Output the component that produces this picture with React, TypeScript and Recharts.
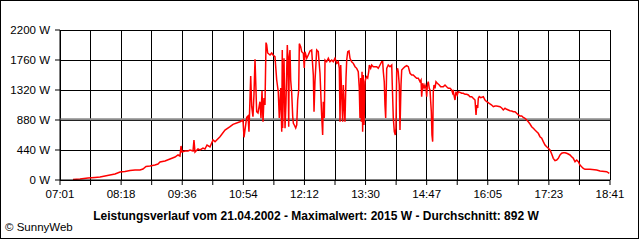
import React from 'react';
import { LineChart, Line, XAxis, YAxis, CartesianGrid, ReferenceLine } from 'recharts';

// x tick labels (every second grid line), start 07:01, end 18:41
const timeLabels = ['07:01', '08:18', '09:36', '10:54', '12:12', '13:30', '14:47', '16:05', '17:23', '18:41'];
const wattTicks = [0, 440, 880, 1320, 1760, 2200];
const TOTAL_MINUTES = 700; // 07:01 -> 18:41
const GRID_STEPS = 18;
const averageW = 892;
const maxW = 2015;

// minutes after 07:01
const morningMin = [
  16.5, 25.5, 35.6, 44.5, 50.9, 57.3, 63.6, 70, 76.4, 82.7,
  89.1, 95.5, 101.8, 105.6, 109.5, 114.5, 120.9, 124.7, 127.3, 133.6,
  140, 146.4, 150.2, 152.7, 154, 155.3, 159.1, 162.9, 165.5, 169.3,
  170.5, 171.8, 175.6, 178.2, 182, 184.5, 187.1, 190.9,
  194.7, 197.3, 203.6, 210, 216.4, 220.2, 229.1, 232.9, 234.2, 237.6,
  239.3, 240.5, 242.7, 244, 245.6, 246.9, 248.2, 250.3, 252, 254.5,
  255.8, 257.1, 258.4, 259.6, 260.9, 262.2, 263.1, 264.3, 267.3, 269.4,
  271.1, 273.6,
];
const morningW = [
  7, 15, 29, 37, 44, 59, 73, 88, 117, 125,
  139, 147, 147, 161, 198, 205, 220, 235, 264, 279,
  308, 337, 367, 352, 499, 411, 425, 425, 440, 425,
  587, 411, 455, 440, 469, 455, 513, 484,
  587, 562, 635, 733, 782, 817, 855, 880, 626, 920,
  939, 708, 1525, 1075, 928, 1261, 1770, 1002, 983, 1148,
  909, 1310, 855, 1203, 1100, maxW, 1980, 1863, 1833, 1863,
  1833, 1808,
];

const noonMin = [
  275.8, 277.8, 279.1, 280.9, 282.2, 282.9, 283.4, 285.1, 286.4, 287.6,
  289.3, 290.2, 291.1, 291.8, 292.7, 293.6, 294.9, 296.2, 297, 298.2,
  300, 301.3, 302.5, 303.8, 304.6, 306.3, 307.6, 309.7, 310.9, 311.8,
  314, 316, 318.2, 320.3, 322.4, 323.3, 324.5, 326.7, 328.7, 330.9,
  333, 334.3, 335.1, 336.4, 337.3, 339.4, 341.5, 343.6, 345.8, 347.8,
  350, 352.2, 354.2, 355.5, 356.4, 357.3, 358.5, 359.8, 360.6, 361.8,
  362.7, 364, 364.9, 366.2, 367.8, 369.1, 371.2, 373.3, 375.5, 377.6,
  379.6, 380.9, 381.8, 382.7, 383.5, 384.4, 385.2, 386, 386.9, 388.2,
  389.4, 390.3, 391.6, 392.9, 393.7, 395.4, 396.7, 398.7, 400.9, 403.1,
  405.1, 407.3, 409.4, 410.7, 411.5, 412.7, 413.6, 414.5, 415.8, 417.8,
  420, 422.2, 422.9, 424.2, 425.5, 426.7, 427.6, 428.5, 429.7, 430.5,
  431.8, 432.7, 434, 434.9, 436.9, 439.1, 441.3, 443.3, 445.5, 447.6,
];
const noonW = [
  1467, 1295, 909, 1349, 708, 1907, 763, 1785, 758, 1129,
  1980, 1716, 782, 1808, 1907, 1467, 1276, 928, 832, 807,
  763, 807, 1173, 1320, 2000, 1955, 1882, 1858, 1643, 1882,
  1785, 1833, 1892, 1907, 1540, 1002, 1442, 1907, 1882, 1565,
  953, 660, 1148, 909, 1760, 1735, 1785, 1735, 1760, 1735,
  1785, 1711, 1735, 1638, 855, 1687, 1247, 855, 1393, 1056,
  855, 1496, 1760, 1882, 1892, 1785, 1735, 1711, 1662, 1638,
  1588, 1345, 909, 1496, 855, 1588, 708, 1540, 807, 1442,
  1496, 1515, 1496, 1588, 1687, 1638, 1687, 1662, 1662, 1662,
  1638, 1687, 1735, 1735, 1588, 1442, 1100, 909, 1638, 1687,
  1662, 1687, 1393, 909, 708, 660, 763, 1588, 1638, 1588,
  1393, 733, 1393, 1613, 1638, 1662, 1676, 1662, 1565, 1540,
];

const afternoonMin = [
  449.6, 451.8, 453.9, 456, 458.2, 459.5, 460.3, 461.6, 463.3, 464.5,
  465.8, 466.7, 467.5, 468.7, 470, 470.9, 471.8, 472.6, 473.4, 474.3,
  475.1, 476, 477.3, 478.5, 480.2, 482.7, 484.5, 487.8, 490, 492.1,
  494.2, 496.4, 498.5, 499.8, 500.6, 501.8, 502.7, 504, 505.6, 506.9,
  509.1, 511.2, 513.3, 515.5, 517.6, 519.7, 521.8, 524, 526, 528.2,
  529.5, 530.4, 531.6, 532.4, 533.6, 535.4, 538.8, 540.9, 543.1, 545.1,
  547.3, 549.4, 551.5, 553.6, 555.8, 560, 562.2, 564.2, 566.4, 568.5,
  570.6, 572.7, 574.9, 576.9, 579.1, 581.2, 583.3, 585.4, 587.6, 589.6,
  591.8, 594, 596, 598.2, 600.3, 602.4, 604.5, 606.7, 608.7, 610.9,
  613.1, 615.1, 617.3, 619.4, 621.5, 623.6, 625.8, 627.8, 630, 632.1,
  634.2, 636.4, 638.5, 640.6, 642.7, 644.9, 646.9, 649.1, 651.2, 653.3,
  655.5, 657.6, 659.7, 661.8, 663.9, 666, 668.2, 674.5, 683, 687.3, 695.8, 699.1,
];
const afternoonW = [
  1540, 1515, 1492, 1492, 1442, 1467, 1222, 1418, 1345, 1393,
  1345, 1222, 1393, 1442, 1345, 1320, 1148, 1002, 660, 562,
  1295, 1393, 1345, 1442, 1418, 1393, 1368, 1368, 1393, 1368,
  1345, 1345, 1320, 1272, 1295, 1222, 1173, 1295, 1247, 1295,
  1286, 1272, 1272, 1257, 1257, 1247, 1222, 1222, 1198, 1173,
  953, 1100, 1056, 1198, 1222, 1207, 1222, 1173, 1148, 1134,
  1115, 1100, 1075, 1085, 1085, 1075, 1056, 1027, 1052, 1037,
  1027, 1016, 1012, 1002, 1002, 978, 953, 939, 939, 920,
  905, 880, 855, 821, 782, 758, 733, 708, 685, 635,
  612, 562, 513, 488, 465, 440, 381, 318, 283, 293,
  318, 367, 392, 400, 400, 392, 381, 367, 342, 318,
  268, 293, 268, 220, 195, 172, 157, 157, 147, 132, 122, 98,
];

const allMin = [...morningMin, ...noonMin, ...afternoonMin];
const allW = [...morningW, ...noonW, ...afternoonW];
const data = allMin.slice(0, Math.min(allMin.length, allW.length)).map((m, i) => ({ m, w: allW[i] }));

const xTicks = Array.from({ length: GRID_STEPS + 1 }, (_, i) => (i * TOTAL_MINUTES) / GRID_STEPS);

const FONT = '"Liberation Sans Narrow", "Arial Narrow", "Liberation Sans", Arial, sans-serif';
const TITLE_FONT = '"Liberation Sans", Arial, sans-serif';

const xFormatter = (v: number) => {
  const idx = Math.round((v * GRID_STEPS) / TOTAL_MINUTES);
  return idx % 2 === 0 ? timeLabels[idx / 2] : '';
};

export default function App() {
  return (
    <div style={{ position: 'absolute', left: 0, top: 0, width: 640, height: 240, background: '#fff' }}>
      <LineChart width={640} height={240} data={data} margin={{ top: 30, right: 30, bottom: 30, left: 0 }}>
        <CartesianGrid stroke="#000" shapeRendering="crispEdges" />
        <XAxis
          dataKey="m"
          type="number"
          domain={[0, TOTAL_MINUTES]}
          ticks={xTicks}
          interval={0}
          tickFormatter={xFormatter}
          height={30}
          tickSize={5}
          tickMargin={5}
          axisLine={{ stroke: '#000' }}
          tickLine={{ stroke: '#000' }}
          tick={{ fill: '#000', fontSize: 11.5, fontFamily: FONT }}
          allowDataOverflow
        />
        <YAxis
          type="number"
          domain={[0, 2200]}
          ticks={wattTicks}
          interval={0}
          width={60}
          tickSize={5}
          tickMargin={5}
          tickFormatter={(v: number) => `${v} W`}
          axisLine={{ stroke: '#000' }}
          tickLine={{ stroke: '#000' }}
          tick={{ fill: '#000', fontSize: 11.5, fontFamily: FONT }}
          allowDataOverflow
        />
        <ReferenceLine y={averageW} stroke="#8c8c8c" strokeWidth={2} />
        <Line
          type="linear"
          dataKey="w"
          stroke="#ff0000"
          strokeWidth={1.5}
          dot={false}
          activeDot={false}
          isAnimationActive={false}
        />
      </LineChart>
      <svg width={640} height={240} style={{ position: 'absolute', left: 0, top: 0, pointerEvents: 'none' }}>
        <text x={316} y={220} textAnchor="middle" fontFamily={TITLE_FONT} fontWeight="bold" fontSize={12} fill="#000">
          {`Leistungsverlauf vom 21.04.2002 - Maximalwert: ${maxW} W - Durchschnitt: ${averageW} W`}
        </text>
        <text x={5} y={231} fontFamily={TITLE_FONT} fontSize={11.5} fill="#000">
          © SunnyWeb
        </text>
      </svg>
      <div
        style={{
          position: 'absolute',
          left: 0,
          top: 0,
          width: 639,
          height: 239,
          border: '1px solid #000',
          boxSizing: 'border-box',
          pointerEvents: 'none',
        }}
      />
    </div>
  );
}
